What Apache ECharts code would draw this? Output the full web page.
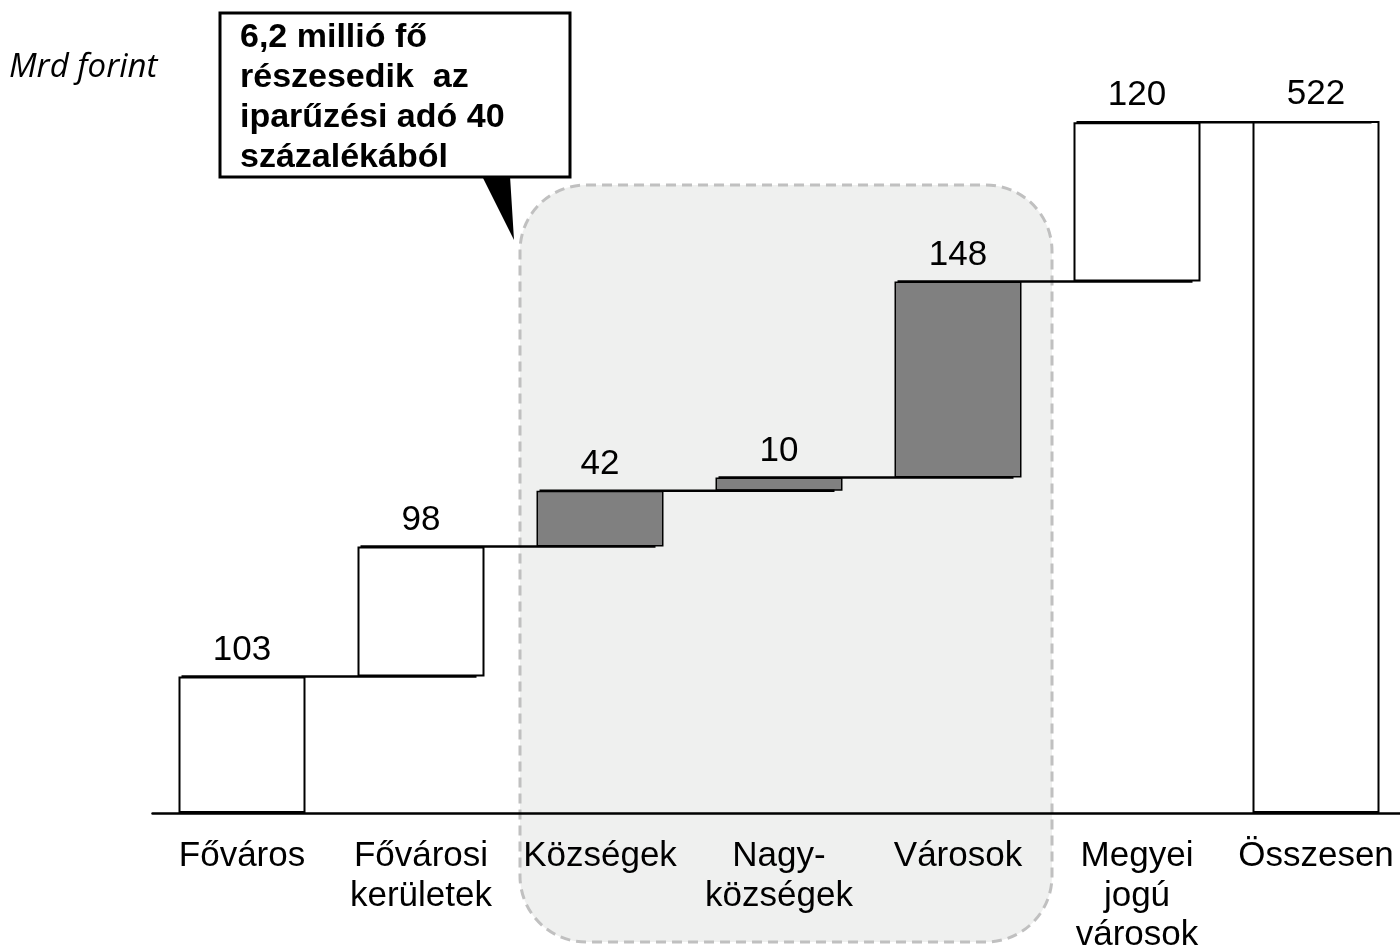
<!DOCTYPE html>
<html>
<head>
<meta charset="utf-8">
<script src="https://cdn.jsdelivr.net/npm/echarts@6/dist/echarts.min.js"></script>
<style>
html,body{margin:0;padding:0;background:#fff;}
#chart{width:1400px;height:949px;}
</style>
</head>
<body>
<div id="chart"></div>
<script>
// ---- data ----
var categories = ['Főváros', 'Fővárosi\nkerületek', 'Községek', 'Nagy-\nközségek', 'Városok', 'Megyei\njogú\nvárosok', 'Összesen'];
var changes = [103, 98, 42, 10, 148, 120];
var total = 522;
var highlighted = [false, false, true, true, true, false, false];
var unitLabel = 'Mrd forint';
var calloutText = '6,2 millió fő\nrészesedik  az\niparűzési adó 40\nszázalékából';

// ---- derived ----
var bases = [], values = [], tops = [];
var run = 0;
changes.forEach(function (v) { bases.push(run); values.push(v); run += v; tops.push(run); });
bases.push(0); values.push(total);

var FONT = '"Liberation Sans", Arial, sans-serif';
var BAR_W = 127;

var valueData = values.map(function (v, i) {
  var hl = highlighted[i];
  return {
    value: v,
    itemStyle: {
      color: hl ? '#808080' : '#ffffff',
      borderColor: '#000',
      borderWidth: hl ? 1.5 : 2
    }
  };
});

var connectorData = tops.map(function (t, i) { return [i, t]; });

var chart = echarts.init(document.getElementById('chart'), null, {renderer: 'canvas'});
chart.setOption({
  animation: false,
  backgroundColor: '#fff',
  grid: {left: 152.5, width: 1253, top: 121, height: 692, containLabel: false, outerBoundsMode: 'none'},
  xAxis: {
    type: 'category',
    data: categories,
    z: 5,
    axisLine: {show: true, lineStyle: {color: '#000', width: 2.5}},
    axisTick: {show: false},
    axisLabel: {
      interval: 0, margin: 24, color: '#000',
      fontFamily: FONT, fontSize: 35, lineHeight: 39.5
    },
    splitLine: {show: false}
  },
  yAxis: {
    type: 'value', min: 0, max: total, show: false, splitLine: {show: false}
  },
  series: [
    {
      type: 'bar', stack: 'w', data: bases, barWidth: BAR_W,
      itemStyle: {color: 'transparent'}, silent: true
    },
    {
      type: 'bar', stack: 'w', data: valueData, barWidth: BAR_W,
      label: {
        show: true, position: 'top', distance: 9, color: '#000',
        fontFamily: FONT, fontSize: 35
      }
    },
    {
      type: 'custom',
      data: connectorData,
      z: 4,
      clip: false,
      encode: {x: 0, y: 1},
      renderItem: function (params, api) {
        var i = api.value(0);
        var p = api.coord([i, api.value(1)]);
        var band = api.size([1, 0])[0];
        var x1 = p[0] - BAR_W / 2 + 3;
        var x2 = p[0] + band + BAR_W / 2 - 8;
        return {
          type: 'line',
          shape: {x1: x1, y1: p[1], x2: x2, y2: p[1]},
          style: {stroke: '#000', lineWidth: 2.5}
        };
      }
    }
  ],
  graphic: [
    {
      type: 'rect', z: -1,
      shape: {x: 520, y: 185, width: 532, height: 757, r: 66},
      style: {fill: '#eff0ef', stroke: '#c0c0c0', lineWidth: 3, lineDash: [10, 6]}
    },
    {
      type: 'text', z: 10, x: 9, y: 68,
      style: {text: unitLabel, font: 'italic 33px "Open Sans", sans-serif', fill: '#000', textVerticalAlign: 'middle'}
    },
    {
      type: 'polygon', z: 20,
      shape: {points: [[482, 176], [510, 176], [514, 240]]},
      style: {fill: '#000'}
    },
    {
      type: 'rect', z: 21,
      shape: {x: 220, y: 13, width: 350, height: 164},
      style: {fill: '#fff', stroke: '#000', lineWidth: 3}
    },
    {
      type: 'text', z: 22, x: 240, y: 18,
      style: {text: calloutText, font: 'bold 34px ' + FONT, lineHeight: 40, fill: '#000', textVerticalAlign: 'top'}
    }
  ]
});
</script>
</body>
</html>
